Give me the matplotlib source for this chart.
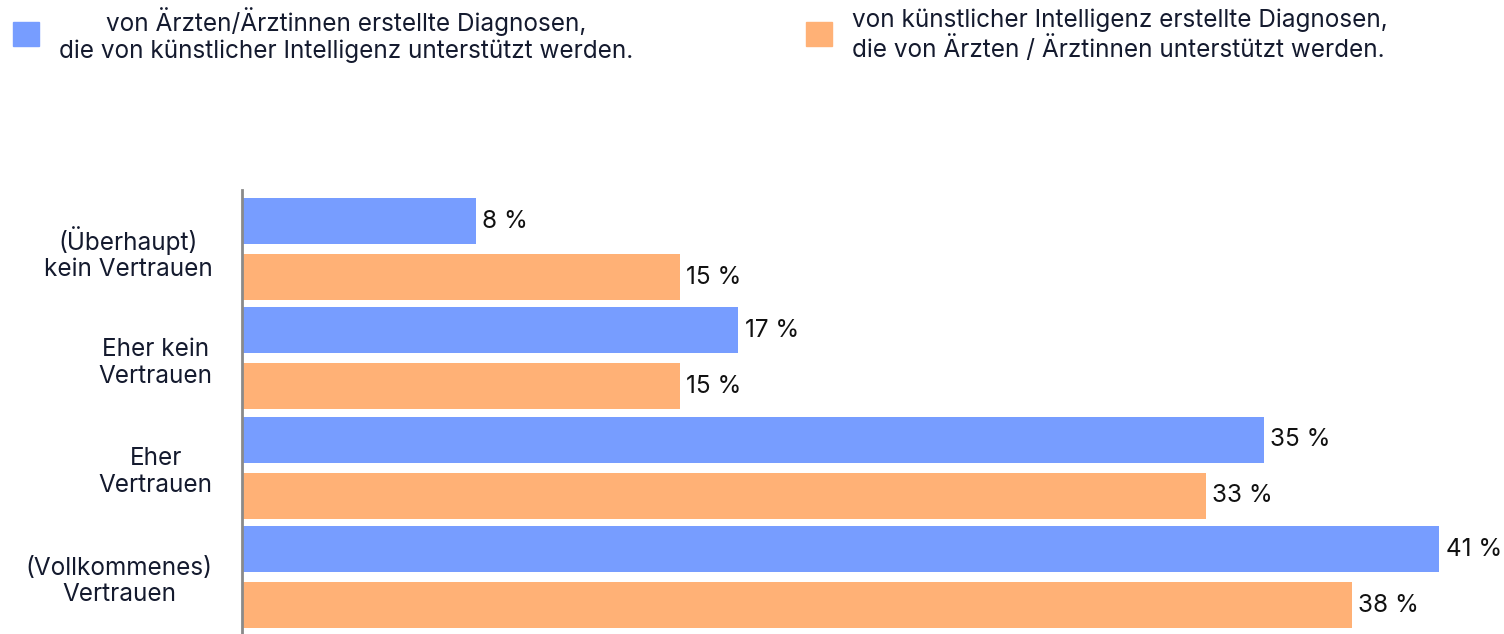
import numpy as np
import matplotlib
matplotlib.use("Agg")
import matplotlib.pyplot as plt
from matplotlib.patches import Rectangle

plt.rcParams['font.family'] = ['Inter', 'DejaVu Sans']

categories = ['(Überhaupt)\nkein Vertrauen', 'Eher kein\nVertrauen', 'Eher\nVertrauen', '(Vollkommenes)\nVertrauen']
arzt_ki = [8, 17, 35, 41]     # Ärzte, von KI unterstützt
ki_arzt = [15, 15, 33, 38]    # KI, von Ärzten unterstützt
series_labels = ['von Ärzten/Ärztinnen erstellte Diagnosen,\ndie von künstlicher Intelligenz unterstützt werden.',
                 'von künstlicher Intelligenz erstellte Diagnosen,\ndie von Ärzten / Ärztinnen unterstützt werden.']

blue = '#779DFF'
orange = '#FFB176'
txt = '#141A2E'
fs = 17.5

W, H = 1504, 634
fig = plt.figure(figsize=(W / 100, H / 100), dpi=100)
ax = fig.add_axes([242 / W, 0, (W - 242) / W, (H - 190) / H])

y = np.arange(len(categories))
h = 0.42
off = 0.256
ax.barh(y - off, arzt_ki, height=h, color=blue)
ax.barh(y + off, ki_arzt, height=h, color=orange)

for yi, v in zip(y - off, arzt_ki):
    ax.text(v + 0.22, yi, f'{v} %', va='center', ha='left', fontsize=fs, color='#111')
for yi, v in zip(y + off, ki_arzt):
    ax.text(v + 0.22, yi, f'{v} %', va='center', ha='left', fontsize=fs, color='#111')

ax.set_xlim(0, (W - 242) / 29.2)
ax.set_ylim(3.52, -0.54)
ax.set_yticks(y)
ax.set_yticklabels(categories, fontsize=fs, color=txt, multialignment='center')
ax.tick_params(axis='y', length=0, pad=21)
ax.set_xticks([])
for s in ['top', 'right', 'bottom']:
    ax.spines[s].set_visible(False)
ax.spines['left'].set_color('#8a8a8a')
ax.spines['left'].set_linewidth(2)

# legend drawn by hand
fig.patches.append(Rectangle((13 / W, 1 - 46 / H), 26 / W, 24 / H, transform=fig.transFigure, color=blue))
fig.patches.append(Rectangle((806 / W, 1 - 46 / H), 26 / W, 24 / H, transform=fig.transFigure, color=orange))
fig.text(346 / W, 1 - 35 / H, series_labels[0], ha='center', va='center', fontsize=fs,
         color=txt, multialignment='center', linespacing=1.15)
fig.text(852 / W, 1 - 35 / H, series_labels[1], ha='left', va='center', fontsize=fs,
         color=txt, multialignment='left', linespacing=1.15)

fig.savefig('out.png', dpi=100)
